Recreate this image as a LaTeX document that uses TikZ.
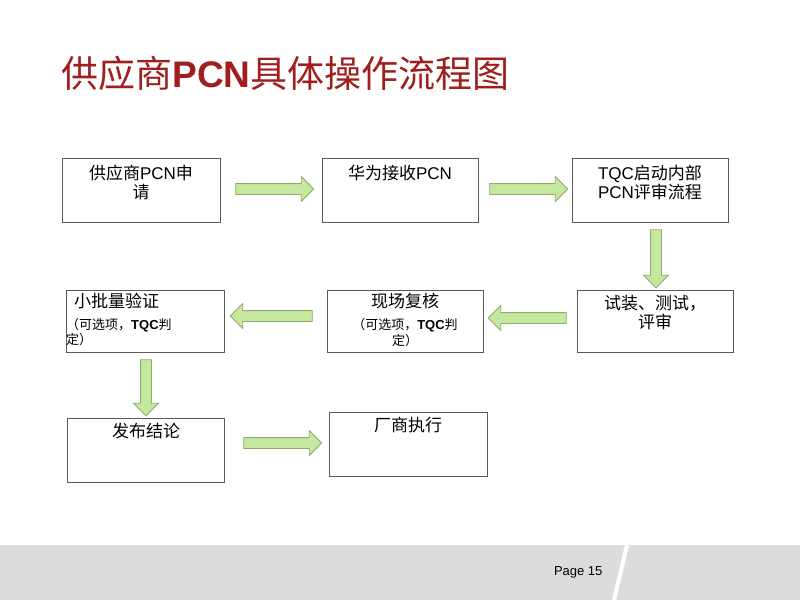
\documentclass[tikz,border=0pt]{standalone}
\usepackage{fontspec}
\setmainfont{Noto Sans CJK SC}
\newfontfamily\latinf{Liberation Sans}
\usetikzlibrary{shapes.arrows}
\definecolor{ttl}{HTML}{A01E1E}
\definecolor{agreen}{HTML}{C6E89E}
\definecolor{aedge}{HTML}{8AAE70}
\definecolor{band}{HTML}{DCDCDC}
\begin{document}
\begin{tikzpicture}[x=1pt,y=-1pt,
  box/.style={draw=black!65,line width=0.8pt},
  lab/.style={anchor=north,font=\fontsize{17}{19}\selectfont,align=center},
  sml/.style={font=\fontsize{13}{15.5}\selectfont,align=center},
  barr/.style={single arrow,draw=aedge,fill=agreen,line width=0.8pt,text height=10pt,text depth=0pt,text width=0pt,inner sep=0pt,minimum width=24pt,single arrow head extend=7pt,minimum height=#1,single arrow tip angle=90}]
\useasboundingbox (0,0) rectangle (800,600);
\fill[white] (0,0) rectangle (800,600);
\fill[band] (0,545) rectangle (800,600);
\draw[white,line width=4pt] (627,545) -- (614,600);
\node[anchor=east,font=\latinf\fontsize{13}{15}\selectfont] (pg) at (606,572) {Page 15};
\node[anchor=west,text=ttl,font=\fontsize{37}{40}\selectfont] (title) at (58,73) {供应商{\latinf\bfseries PCN}具体操作流程图};
% boxes
\draw[box] (62,158) rectangle (220,222);
\node[lab] (t1) at (141,162) {供应商{\latinf PCN}申\\请};
\draw[box] (322,158) rectangle (478,222);
\node[lab] (t2) at (400,162) {华为接收{\latinf PCN}};
\draw[box] (572,158) rectangle (728,222);
\node[lab] (t3) at (650,162) {{\latinf TQC}启动内部\\{\latinf PCN}评审流程};
\draw[box] (577,290) rectangle (733,352);
\node[lab] (t4) at (655,292) {试装、测试，\\评审};
\draw[box] (327,290) rectangle (483,352);
\node[lab] (t5) at (405,290) {现场复核};
\node[sml,anchor=north] (s5) at (405,315) {（可选项，{\latinf\bfseries TQC}判\\定）};
\draw[box] (66,290) rectangle (224,352);
\node[lab,anchor=north west,inner sep=0pt] (t6) at (74,293) {小批量验证};
\node[sml,anchor=north west,align=left,inner sep=0pt] (s6) at (66,318) {（可选项，{\latinf\bfseries TQC}判\\定）};
\draw[box] (67,418) rectangle (224,482);
\node[lab] (t7) at (146,420) {发布结论};
\draw[box] (329,412) rectangle (487,476);
\node[lab] (t8) at (408,414) {厂商执行};
% block arrows
\node[barr=78pt] (a1) at (272,189) {};
\node[barr=78pt] (a2) at (526,189) {};
\node[barr=58pt,rotate=-90] (a3) at (656,256) {};
\node[barr=78pt,rotate=180] (a4) at (530,318) {};
\node[barr=82pt,rotate=180] (a5) at (274,316) {};
\node[barr=56pt,rotate=-90] (a6) at (146,385) {};
\node[barr=78pt] (a7) at (280,443) {};
\end{tikzpicture}
\end{document}
